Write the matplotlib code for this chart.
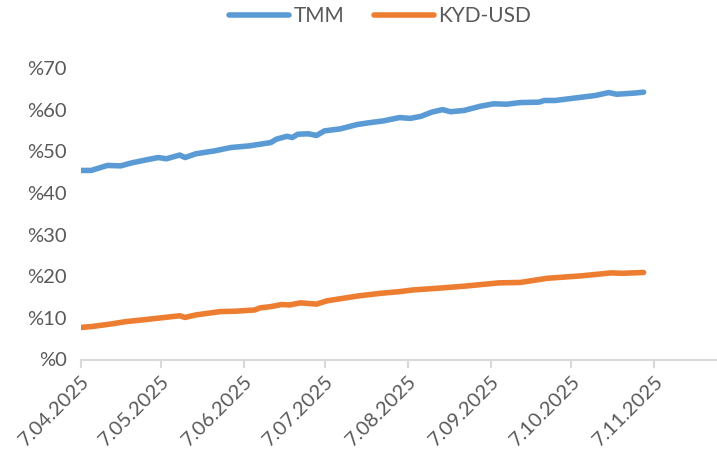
import matplotlib
matplotlib.use("Agg")
import matplotlib.pyplot as plt
import matplotlib.dates as mdates
import numpy as np
from datetime import date, timedelta

start = date(2025, 4, 7)

tmm_days = [0, 4, 10, 15, 19, 25, 29, 32, 37, 39, 43, 50, 56, 63, 71, 73, 77, 79, 81, 85, 88, 91,
            97, 103, 107, 113, 116, 119, 123, 127, 131, 135, 138, 143, 149, 154, 159, 164, 171,
            173, 177, 182, 187, 192, 197, 200, 207, 210]
tmm_vals = [45.4, 45.4, 46.6, 46.5, 47.2, 48.0, 48.5, 48.2, 49.1, 48.5, 49.4, 50.1, 50.9, 51.3,
            52.1, 52.9, 53.6, 53.3, 54.1, 54.2, 53.8, 54.9, 55.4, 56.4, 56.8, 57.3, 57.7, 58.1,
            57.9, 58.4, 59.4, 60.0, 59.5, 59.8, 60.8, 61.4, 61.3, 61.7, 61.8, 62.2, 62.2, 62.6,
            63.0, 63.4, 64.1, 63.7, 64.0, 64.2]

kyd_days = [0, 4, 11, 17, 23, 30, 37, 39, 43, 52, 58, 65, 67, 71, 75, 78, 82, 88, 92, 98, 104,
            112, 119, 124, 133, 143, 156, 164, 174, 187, 198, 202, 210]
kyd_vals = [7.7, 7.9, 8.5, 9.1, 9.5, 10.0, 10.5, 10.1, 10.7, 11.5, 11.6, 11.9, 12.4, 12.7, 13.2,
            13.1, 13.6, 13.3, 14.1, 14.7, 15.3, 15.9, 16.3, 16.7, 17.1, 17.6, 18.4, 18.5, 19.5,
            20.1, 20.8, 20.7, 20.9]

tick_dates = [date(2025, m, 7) for m in range(4, 12)]
tick_labels = [d.strftime("%-d.%m.%Y") for d in tick_dates]
y_ticks = [0, 10, 20, 30, 40, 50, 60, 70]
y_labels = ["%" + str(v) for v in y_ticks]

tmm_dates = [start + timedelta(days=d) for d in tmm_days]
kyd_dates = [start + timedelta(days=d) for d in kyd_days]

plt.rcParams['font.family'] = ['Lato', 'DejaVu Sans']
gray = "#595959"

fig = plt.figure(figsize=(7.17, 4.57), dpi=100)
ax = fig.add_axes([80.5 / 717, 97.5 / 457, (716 - 80.5) / 717, (359.5 - 68) / 457])

ax.plot(tmm_dates, tmm_vals, color="#5B9BD5", lw=4.0, solid_capstyle="round",
        solid_joinstyle="round", label="TMM")
ax.plot(kyd_dates, kyd_vals, color="#ED7D31", lw=4.0, solid_capstyle="round",
        solid_joinstyle="round", label="KYD-USD")

ax.set_xlim(start, start + timedelta(days=237))
ax.set_ylim(0, 70)

ax.set_xticks(tick_dates)
ax.set_xticklabels(tick_labels, rotation=45, ha="right", rotation_mode="anchor",
                   fontsize=14.5, color=gray)
ax.set_yticks(y_ticks)
ax.set_yticklabels(y_labels, fontsize=14.5, color=gray)

for s in ["top", "right", "left"]:
    ax.spines[s].set_visible(False)
ax.spines["bottom"].set_color("#d9d9d9")
ax.spines["bottom"].set_linewidth(1.5)
ax.tick_params(axis="x", length=6, width=1.5, color="#d9d9d9", pad=3)
ax.tick_params(axis="y", length=0, pad=10)

leg = fig.legend(loc="center", bbox_to_anchor=(0.53, 0.965), ncol=2, frameon=False,
                 fontsize=15, handlelength=2.9, columnspacing=1.4, handletextpad=0.2)
for t in leg.get_texts():
    t.set_color(gray)
for h in leg.get_lines():
    h.set_solid_capstyle("round")

fig.savefig("out.png", dpi=100)
